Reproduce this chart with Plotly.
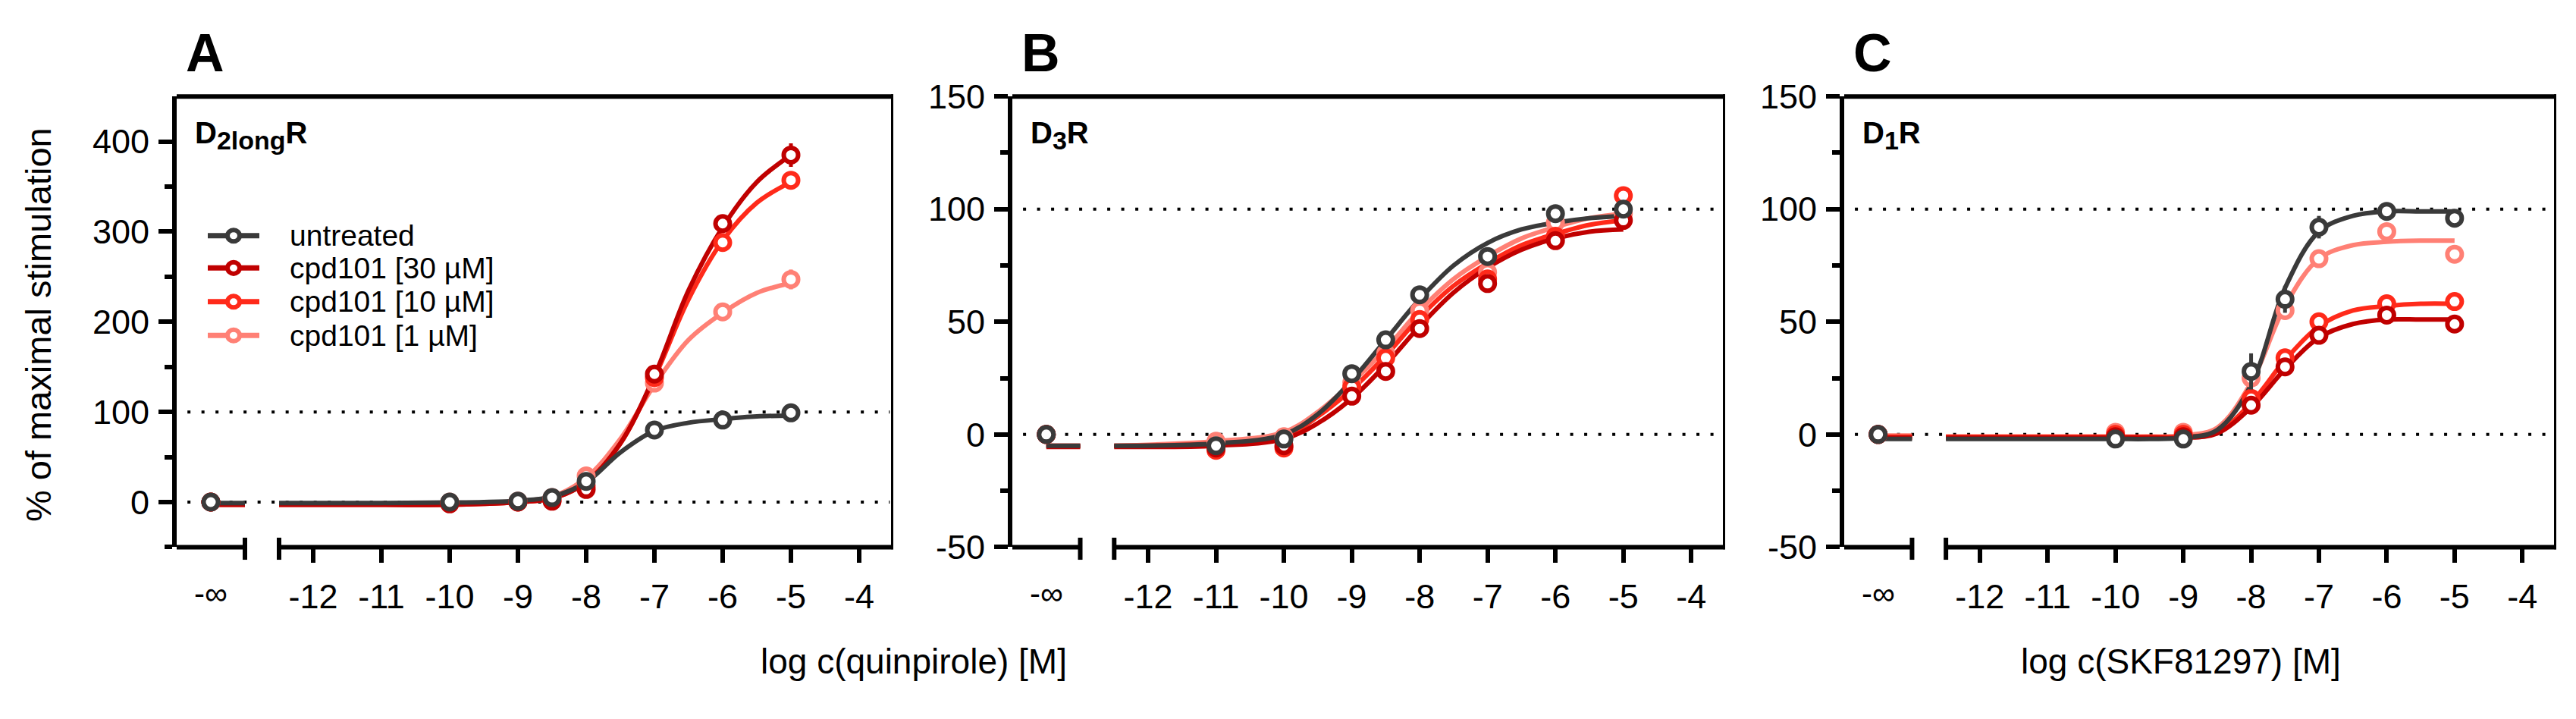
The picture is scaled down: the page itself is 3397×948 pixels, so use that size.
import plotly.graph_objects as go

W, H = 3397, 948

# ------------------------------------------------------------------ data
series_names = ["untreated", "cpd101 [30 µM]", "cpd101 [10 µM]", "cpd101 [1 µM]"]
series_colors = ["#3a3a3a", "#c00000", "#ff2a1a", "#ff8075"]

x_tick_vals = [-12, -11, -10, -9, -8, -7, -6, -5, -4]
x_tick_text = ["-12", "-11", "-10", "-9", "-8", "-7", "-6", "-5", "-4"]
inf_label = "-∞"
inf_pos = -13.5          # where the "-∞" (no agonist) column sits
x_full = [-14.0, -3.5]   # whole x extent incl. the -∞ segment
x_seg_inf = [-14.0, -13.0]
x_seg_main = [-12.5, -3.5]

# fitted curves at these log concentrations
curve_x = [-12.5, -11, -10, -9.5, -9, -8.5, -8, -7.5, -7, -6.5, -6, -5.5, -5]
curve_inf_x = [-13.5, -13.0]

# ---- Panel A : D2longR, quinpirole
A_x = [-10, -9, -8.5, -8, -7, -6, -5]
A_untreated = [0, 1, 5, 23, 80, 91, 99]
A_cpd30 = [-2, 0, 1, 14, 142, 309, 385]
A_cpd10 = [-1, 0, 2, 18, 138, 288, 357]
A_cpd1 = [0, 1, 5, 29, 132, 211, 247]
A_err_untreated = [0, 0, 0, 3, 4, 3, 3]
A_err_cpd30 = [0, 0, 0, 3, 5, 9, 13]
A_err_cpd10 = [0, 0, 0, 3, 4, 5, 5]
A_err_cpd1 = [0, 0, 0, 3, 5, 6, 11]
A_inf = [0, 0, 0, 0]
A_fit_untreated = [-1, -1, -0.5, 0, 1.5, 6, 22, 55, 79, 88, 92, 95, 96]
A_fit_cpd30 = [-3, -3, -3, -2, 0, 4, 22, 65, 140, 235, 305, 355, 385]
A_fit_cpd10 = [-3, -3, -3, -2, 0, 4, 22, 65, 138, 225, 290, 332, 355]
A_fit_cpd1 = [-2, -2, -2, -1, 1, 6, 27, 70, 130, 180, 210, 232, 243]
A_fit_inf = [-1, -3, -3, -2]

# ---- Panel B : D3R, quinpirole
B_x = [-11, -10, -9, -8.5, -8, -7, -6, -5]
B_untreated = [-5, -2, 27, 42, 62, 79, 98, 100]
B_cpd30 = [-6, -5, 17, 28, 47, 67, 86, 95]
B_cpd10 = [-7, -6, 21, 34, 51, 69, 88, 106]
B_cpd1 = [-3, -1, 23, 36, 55, 72, 94, 98]
B_err_untreated = [2, 2, 2, 2, 2, 2, 2, 2]
B_err_cpd30 = [2, 2, 2, 2, 2, 2, 3, 2]
B_err_cpd10 = [2, 2, 2, 2, 2, 2, 3, 2]
B_err_cpd1 = [2, 2, 2, 2, 2, 2, 2, 2]
B_inf = [0, 0, 0, 0]
B_fit_untreated = [-5, -4, 0, 9, 24, 42, 60, 75, 85, 91, 94, 96, 97]
B_fit_cpd30 = [-5.5, -5, -2, 5, 16, 31, 48, 63, 74, 82, 87, 90, 91]
B_fit_cpd10 = [-5, -4, -1, 8, 20, 35, 52, 66, 76, 84, 89, 93, 95]
B_fit_cpd1 = [-5, -3, 1, 10, 23, 38, 55, 69, 79, 87, 92, 96, 98]
B_fit_inf = [-5, -5.5, -5, -5]

# ---- Panel C : D1R, SKF81297
C_x = [-10, -9, -8, -7.5, -7, -6, -5]
C_untreated = [-2, -2, 28, 60, 92, 99, 96]
C_cpd30 = [-1, -1, 13, 30, 44, 53, 49]
C_cpd10 = [0, 0, 16, 34, 50, 58, 59]
C_cpd1 = [1, 1, 25, 55, 78, 90, 80]
C_err_untreated = [0, 0, 8, 6, 5, 2, 2]
C_err_cpd30 = [0, 0, 3, 2, 2, 2, 2]
C_err_cpd10 = [0, 0, 3, 2, 2, 2, 2]
C_err_cpd1 = [0, 0, 3, 3, 2, 3, 2]
C_inf = [0, 0, 0, 0]
C_fit_untreated = [-2, -2, -2, -2, -1.5, 2, 22, 65, 90, 97, 99, 99, 99]
C_fit_cpd30 = [-1.5, -1.5, -1.5, -1.5, -1.5, 0.5, 12, 29, 43, 49, 51, 51, 51]
C_fit_cpd10 = [-1, -1, -1, -1, -1, 1, 14, 33, 48, 55, 57, 58, 58]
C_fit_cpd1 = [-1, -1, -1, -1, -0.5, 3, 23, 57, 78, 84, 85.5, 86, 86]
C_fit_inf = [-2, -1.5, -1, -0.5]

ref_lines = [0, 100]

# ------------------------------------------------------------------ layout helpers
FONT = "Arial, Liberation Sans, Helvetica, sans-serif"
LW = 6


def px_x(p):
    return p / W


def px_y(p):
    return 1 - p / H


panel_px = [(233, 1178), (1335, 2275), (2432, 3371)]
y_top_px, y_bot_px = 108, 736

sub_big = '<span style="font-size:34px">%s</span>'
panels = [
    dict(x=A_x, vals=[A_untreated, A_cpd30, A_cpd10, A_cpd1],
         errs=[A_err_untreated, A_err_cpd30, A_err_cpd10, A_err_cpd1],
         inf=A_inf, fits=[A_fit_untreated, A_fit_cpd30, A_fit_cpd10, A_fit_cpd1],
         fit_inf=A_fit_inf, yrange=[-50, 450], yticks=[0, 100, 200, 300, 400],
         yminor=[-50, 50, 150, 250, 350], letter="A",
         receptor="D<sub>" + sub_big % "2long" + "</sub>R"),
    dict(x=B_x, vals=[B_untreated, B_cpd30, B_cpd10, B_cpd1],
         errs=[B_err_untreated, B_err_cpd30, B_err_cpd10, B_err_cpd1],
         inf=B_inf, fits=[B_fit_untreated, B_fit_cpd30, B_fit_cpd10, B_fit_cpd1],
         fit_inf=B_fit_inf, yrange=[-50, 150], yticks=[-50, 0, 50, 100, 150],
         yminor=[-25, 25, 75, 125], letter="B",
         receptor="D<sub>" + sub_big % "3" + "</sub>R"),
    dict(x=C_x, vals=[C_untreated, C_cpd30, C_cpd10, C_cpd1],
         errs=[C_err_untreated, C_err_cpd30, C_err_cpd10, C_err_cpd1],
         inf=C_inf, fits=[C_fit_untreated, C_fit_cpd30, C_fit_cpd10, C_fit_cpd1],
         fit_inf=C_fit_inf, yrange=[-50, 150], yticks=[-50, 0, 50, 100, 150],
         yminor=[-25, 25, 75, 125], letter="C",
         receptor="D<sub>" + sub_big % "1" + "</sub>R"),
]

fig = go.Figure()
shapes = []
annotations = []
draw_order = [3, 2, 1, 0]

for k, p in enumerate(panels):
    n = "" if k == 0 else str(k + 1)
    xa, ya = "x" + n, "y" + n
    # fitted curves
    for i in draw_order:
        fig.add_trace(go.Scatter(
            x=curve_x, y=p["fits"][i], mode="lines",
            line=dict(color=series_colors[i], width=LW, shape="spline", smoothing=1.0),
            xaxis=xa, yaxis=ya, showlegend=False, hoverinfo="skip", name=series_names[i]))
        fig.add_trace(go.Scatter(
            x=curve_inf_x, y=[p["fit_inf"][i]] * 2, mode="lines",
            line=dict(color=series_colors[i], width=LW),
            xaxis=xa, yaxis=ya, showlegend=False, hoverinfo="skip", name=series_names[i]))
    # data points
    for i in draw_order:
        fig.add_trace(go.Scatter(
            x=[inf_pos] + p["x"], y=[p["inf"][i]] + p["vals"][i], mode="markers",
            marker=dict(symbol="circle", size=19, color="white",
                        line=dict(color=series_colors[i], width=6)),
            error_y=dict(type="data", array=[0] + p["errs"][i], color=series_colors[i],
                         thickness=5, width=0),
            xaxis=xa, yaxis=ya, showlegend=False, name=series_names[i]))

    x0p, x1p = panel_px[k]
    xdom = [px_x(x0p), px_x(x1p)]
    ydom = [px_y(y_bot_px), px_y(y_top_px)]
    fig.update_layout(**{
        ("xaxis" + n): dict(domain=xdom, range=x_full, anchor=ya, showline=False,
                            showgrid=False, zeroline=False, tickmode="array",
                            tickvals=x_tick_vals, ticktext=x_tick_text, ticks="outside",
                            ticklen=20, tickwidth=LW, tickcolor="black", ticklabelstandoff=6,
                            tickfont=dict(family=FONT, size=45, color="black")),
        ("yaxis" + n): dict(domain=ydom, range=p["yrange"], anchor=xa, showline=True,
                            linewidth=LW, linecolor="black", showgrid=False, zeroline=False,
                            tickmode="array", tickvals=p["yticks"],
                            ticktext=[str(v) for v in p["yticks"]],
                            ticks="outside", ticklen=18, tickwidth=LW, tickcolor="black",
                            ticklabelstandoff=3,
                            tickfont=dict(family=FONT, size=45, color="black"),
                            minor=dict(tickmode="array", tickvals=p["yminor"], ticks="outside",
                                       ticklen=10, tickwidth=LW, tickcolor="black")),
    })

    ex = (LW / 2) / (x1p - x0p) * (x_full[1] - x_full[0])
    ey = (LW / 2) / (y_bot_px - y_top_px)
    line = dict(color="black", width=LW)
    yd = ya + " domain"
    shapes += [
        dict(type="line", xref=xa, yref=yd, x0=x_full[0] - ex, x1=x_full[1] + ex, y0=1, y1=1, line=line),
        dict(type="line", xref=xa, yref=yd, x0=x_full[1], x1=x_full[1], y0=-ey, y1=1 + ey, line=line),
        dict(type="line", xref=xa, yref=yd, x0=x_seg_main[0], x1=x_seg_main[1] + ex, y0=0, y1=0, line=line),
        dict(type="line", xref=xa, yref=yd, x0=x_seg_inf[0] - ex, x1=x_seg_inf[1], y0=0, y1=0, line=line),
        dict(type="line", xref=xa, yref=yd, x0=x_seg_inf[1], x1=x_seg_inf[1], y0=-0.028, y1=0.021, line=line),
        dict(type="line", xref=xa, yref=yd, x0=x_seg_main[0], x1=x_seg_main[0], y0=-0.028, y1=0.021, line=line),
    ]
    for v in ref_lines:
        shapes.append(dict(type="line", xref=xa + " domain", yref=ya, x0=0.015, x1=0.995, y0=v, y1=v,
                           layer="below", line=dict(color="black", width=4, dash="4px,14.5px")))
    annotations.append(dict(text=inf_label, xref=xa, yref="paper", x=inf_pos, y=px_y(801),
                            showarrow=False, font=dict(family=FONT, size=42, color="black"),
                            xanchor="center", yanchor="middle"))
    annotations.append(dict(text="<b>%s</b>" % p["letter"], xref="paper", yref="paper",
                            x=px_x(x0p + 10), y=px_y(48), xanchor="left", yanchor="middle",
                            showarrow=False, font=dict(family=FONT, size=70, color="black")))
    annotations.append(dict(text="<b>%s</b>" % p["receptor"], xref="paper", yref="paper",
                            x=px_x(x0p + 22), y=px_y(162), xanchor="left", yanchor="middle",
                            showarrow=False, font=dict(family=FONT, size=40, color="black")))

# legend of panel A (line + open circle + label)
leg_rows_px = [302, 347, 394, 441]
leg_line_px = (274, 342)
leg_mark_px = 308
leg_text_px = 380
r = 8
for i in range(4):
    yc = leg_rows_px[i]
    shapes.append(dict(type="line", xref="paper", yref="paper",
                       x0=px_x(leg_line_px[0]), x1=px_x(leg_line_px[1]), y0=px_y(yc), y1=px_y(yc),
                       line=dict(color=series_colors[i], width=7)))
    shapes.append(dict(type="circle", xref="paper", yref="paper",
                       x0=px_x(leg_mark_px - r), x1=px_x(leg_mark_px + r),
                       y0=px_y(yc + r), y1=px_y(yc - r), fillcolor="white",
                       line=dict(color=series_colors[i], width=6)))
    annotations.append(dict(text=series_names[i], xref="paper", yref="paper",
                            x=px_x(leg_text_px), y=px_y(yc), xanchor="left", yanchor="middle",
                            showarrow=False, font=dict(family=FONT, size=39, color="black")))

annotations.append(dict(text="% of maximal stimulation", xref="paper", yref="paper",
                        x=px_x(50), y=px_y(426), textangle=-90, showarrow=False,
                        xanchor="center", yanchor="middle",
                        font=dict(family=FONT, size=47, color="black")))
annotations.append(dict(text="log c(quinpirole) [M]", xref="paper", yref="paper",
                        x=px_x(1205), y=px_y(895), showarrow=False, xanchor="center",
                        yanchor="middle", font=dict(family=FONT, size=46, color="black")))
annotations.append(dict(text="log c(SKF81297) [M]", xref="paper", yref="paper",
                        x=px_x(2876), y=px_y(895), showarrow=False, xanchor="center",
                        yanchor="middle", font=dict(family=FONT, size=46, color="black")))

fig.update_layout(
    width=W, height=H, margin=dict(l=0, r=0, t=0, b=0),
    paper_bgcolor="white", plot_bgcolor="white",
    shapes=shapes, annotations=annotations,
    showlegend=False,
)

fig.write_html("out.html")
